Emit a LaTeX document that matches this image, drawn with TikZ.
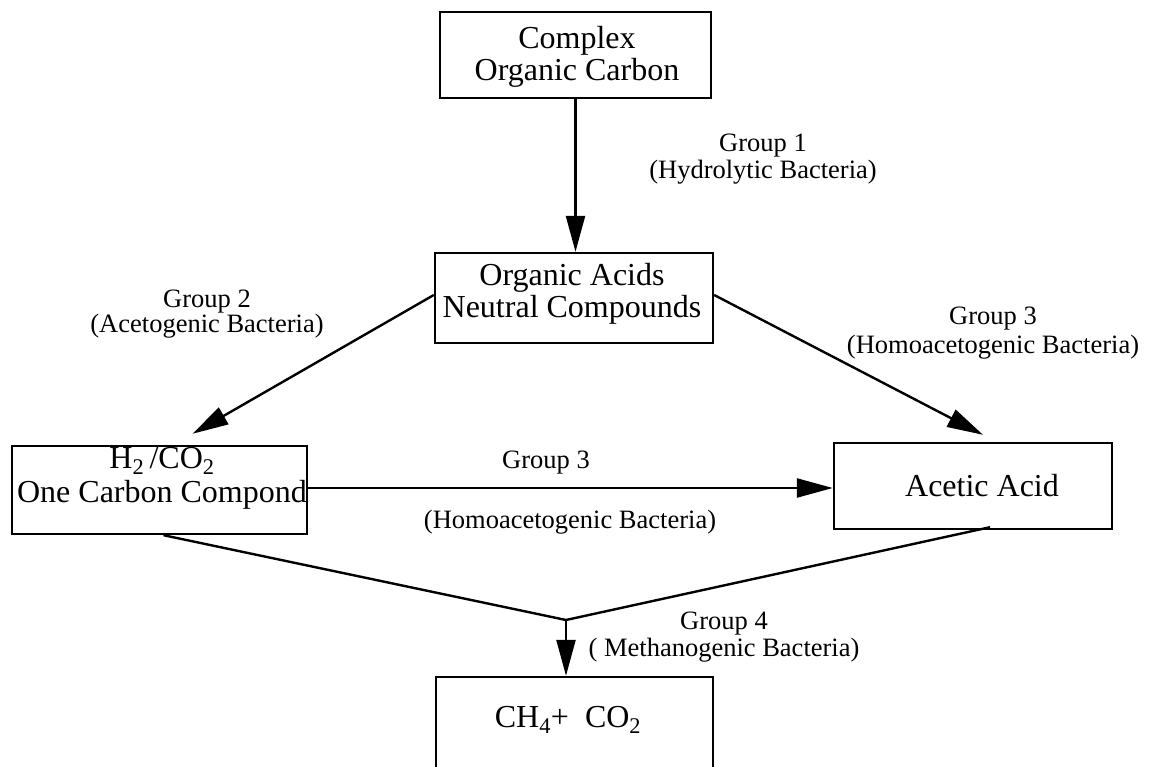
\documentclass[tikz,border=0pt]{standalone}
\usepackage{fontspec}
\setmainfont{Liberation Serif}
\usetikzlibrary{arrows.meta}
\begin{document}
\begin{tikzpicture}[x=1pt,y=-1pt,
  box/.style={draw, line width=2.4pt, rectangle, inner sep=0pt},
  boxtext/.style={align=center, inner sep=0pt, font=\fontsize{32}{32}\selectfont},
  lab/.style={align=center, inner sep=0pt, font=\fontsize{26.5}{27}\selectfont},
  arr/.style={line width=2.4pt, -{Triangle[length=36pt,width=19pt]}},
  link/.style={line width=2.4pt}]
\useasboundingbox (0,0) rectangle (1157,767);

% boxes
\node[box, minimum width=271pt, minimum height=86pt] (b1) at (575.5,55) {};
\node[box, minimum width=278pt, minimum height=90pt] (b2) at (574,298) {};
\node[box, minimum width=295pt, minimum height=88pt] (b3) at (159.5,490) {};
\node[box, minimum width=278pt, minimum height=86pt] (b4) at (973,486) {};
\node[box, minimum width=277pt, minimum height=93pt] (b5) at (574.5,723.5) {};

% box texts
\node[boxtext] (t1) at (577,57) {Complex\\Organic Carbon};
\node[boxtext] (t2) at (572,294) {Organic Acids\\Neutral Compounds};
\node[boxtext, font=\fontsize{32}{34}\selectfont] (t3) at (162,478) {H\textsubscript{2}\,/CO\textsubscript{2}\\One Carbon Compond};
\node[boxtext] (t4) at (982,486) {Acetic Acid};
\node[boxtext] (t5) at (568,720) {CH\textsubscript{4}+\ \ CO\textsubscript{2}};

% connectors
\coordinate (j) at (566,620);
\draw[arr] (b1.south) -- (b1.south |- b2.north);
\draw[arr] ([yshift=3pt]b2.west) -- ([xshift=33pt,yshift=11pt]b3.north);
\draw[arr] ([yshift=3pt]b2.east) -- ([xshift=10pt,yshift=7pt]b4.north);
\draw[arr] ([yshift=2pt]b3.east) -- ([yshift=-2pt]b4.west);
\draw[link] ([xshift=4pt]b3.south) -- (j);
\draw[link] ([xshift=17pt,yshift=3pt]b4.south) -- (j);
\draw[arr] (j) -- (j |- b5.north);

% labels
\node[lab] (g1) at (763,159) {Group 1\\(Hydrolytic Bacteria)};
\node[lab, font=\fontsize{26.5}{23}\selectfont] (g2) at (207,314) {Group 2\\(Acetogenic Bacteria)};
\node[lab, font=\fontsize{26.5}{29}\selectfont] (g3) at (993,333) {Group 3\\(Homoacetogenic Bacteria)};
\node[lab] (g3a) at (546,463) {Group 3};
\node[lab] (g3b) at (570,522) {(Homoacetogenic Bacteria)};
\node[lab] (g4) at (724,637) {Group 4\\( Methanogenic Bacteria)};
\end{tikzpicture}
\end{document}
